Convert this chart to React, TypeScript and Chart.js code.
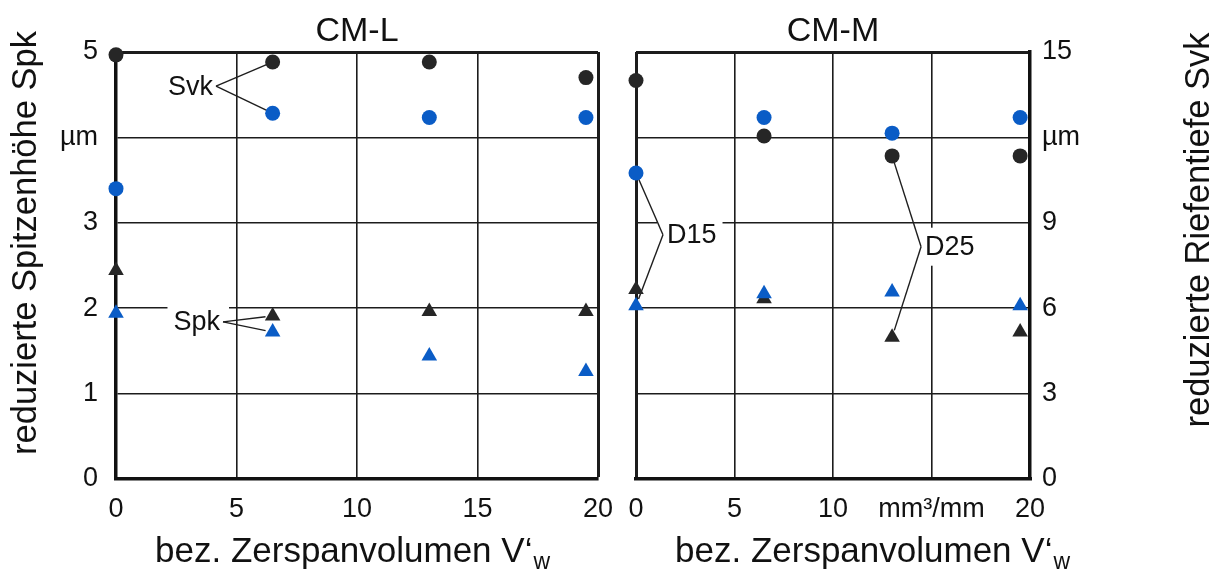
import React, { useEffect, useRef } from 'react';
import { Chart, registerables } from 'chart.js';

Chart.register(...registerables);

// ---------- data ----------
const volume = [0, 6.5, 13, 19.5]; // bez. Zerspanvolumen V'w in mm³/mm

const xTickValues = [0, 5, 10, 15, 20];
const spkTickValues = [0, 1, 2, 3, 4, 5];
const svkTickValues = [0, 3, 6, 9, 12, 15];

const xLabelsLeft = ['0', '5', '10', '15', '20'];
const xLabelsRight = ['0', '5', '10', 'mm³/mm', '20'];
const spkLabels = ['0', '1', '2', '3', 'µm', '5'];
const svkLabels = ['0', '3', '6', '9', 'µm', '15'];

// CM-L (Svk in µm on 0–15 scale, Spk in µm on 0–5 scale)
const cmlSvkD25 = [14.9, 14.65, 14.65, 14.1];
const cmlSvkD15 = [10.2, 12.85, 12.7, 12.7];
const cmlSpkD25 = [2.44, 1.91, 1.96, 1.96];
const cmlSpkD15 = [1.94, 1.72, 1.44, 1.26];

// CM-M
const cmmSvkD25 = [14.0, 12.05, 11.35, 11.35];
const cmmSvkD15 = [10.75, 12.7, 12.15, 12.7];
const cmmSpkD25 = [2.22, 2.11, 1.66, 1.72];
const cmmSpkD15 = [2.03, 2.17, 2.19, 2.03];

// ---------- style ----------
const FONT = "'Liberation Sans', Arial, Helvetica, sans-serif";
const BLUE = '#0a5cc6';
const BLACK = '#262626';
const GRID = '#1c1c1c';
const TEXT = '#111111';

type Note = { text: string; x: number; y: number; side: 'left' | 'right'; targets: [string, number][] };

function makeDatasets(svkD15: number[], spkD15: number[], svkD25: number[], spkD25: number[]) {
  const mk = (label: string, values: number[], axis: string, color: string, style: string, r: number) => ({
    label,
    data: volume.map((x, i) => ({ x, y: values[i] })),
    yAxisID: axis,
    pointStyle: style,
    pointRadius: r,
    pointHoverRadius: r,
    pointBackgroundColor: color,
    pointBorderColor: color,
    pointBorderWidth: 0,
    showLine: false,
    clip: false,
  });
  // first dataset is drawn on top
  return [
    mk('D15-Svk', svkD15, 'y2', BLUE, 'circle', 7.5),
    mk('D15-Spk', spkD15, 'y', BLUE, 'triangle', 9),
    mk('D25-Svk', svkD25, 'y2', BLACK, 'circle', 7.5),
    mk('D25-Spk', spkD25, 'y', BLACK, 'triangle', 9),
  ];
}

function makePlugin(cfg: {
  title: string;
  yTitle: string;
  yTitleX: number;
  yTitleY: number;
  xTitleX: number;
  notes: Note[];
}) {
  return {
    id: 'decor',
    beforeDatasetsDraw(chart: any) {
      const ctx = chart.ctx;
      const xs = chart.scales.x;
      const ys = chart.scales.y;
      ctx.save();
      ctx.font = `27px ${FONT}`;
      for (const n of cfg.notes) {
        const vx = xs.getPixelForValue(n.x);
        const vy = ys.getPixelForValue(n.y);
        const w = ctx.measureText(n.text).width;
        const tx = n.side === 'left' ? vx - 3 - w : vx + 4;
        const bx0 = Math.min(tx, vx) - 6;
        const bx1 = Math.max(tx + w, vx) + 6;
        ctx.fillStyle = '#ffffff';
        ctx.fillRect(bx0, vy - 19, bx1 - bx0, 38);
        ctx.strokeStyle = '#1e1e1e';
        ctx.lineWidth = 1.4;
        for (const [label, idx] of n.targets) {
          const di = chart.data.datasets.findIndex((d: any) => d.label === label);
          const el = chart.getDatasetMeta(di).data[idx];
          const r = chart.data.datasets[di].pointRadius * 0.8;
          const dx = el.x - vx;
          const dy = el.y - vy;
          const len = Math.sqrt(dx * dx + dy * dy);
          ctx.beginPath();
          ctx.moveTo(vx, vy);
          ctx.lineTo(el.x - (dx / len) * r, el.y - (dy / len) * r);
          ctx.stroke();
        }
        ctx.fillStyle = TEXT;
        ctx.textAlign = 'left';
        ctx.textBaseline = 'middle';
        ctx.fillText(n.text, tx, vy + 1);
      }
      ctx.restore();
    },
    afterDraw(chart: any) {
      const ctx = chart.ctx;
      const area = chart.chartArea;
      ctx.save();
      ctx.fillStyle = TEXT;
      // panel title
      ctx.font = `34px ${FONT}`;
      ctx.textAlign = 'center';
      ctx.textBaseline = 'alphabetic';
      ctx.fillText(cfg.title, (area.left + area.right) / 2, area.top - 11);
      // y title (rotated)
      ctx.save();
      ctx.translate(cfg.yTitleX, cfg.yTitleY);
      ctx.rotate(-Math.PI / 2);
      ctx.font = `34.5px ${FONT}`;
      ctx.textAlign = 'center';
      ctx.textBaseline = 'alphabetic';
      ctx.fillText(cfg.yTitle, 0, 0);
      ctx.restore();
      // x title with subscript
      ctx.textAlign = 'left';
      ctx.textBaseline = 'alphabetic';
      ctx.font = `35px ${FONT}`;
      const main = 'bez. Zerspanvolumen V‘';
      const w = ctx.measureText(main).width;
      ctx.fillText(main, cfg.xTitleX, 562);
      ctx.font = `23px ${FONT}`;
      ctx.fillText('w', cfg.xTitleX + w + 1, 569);
      ctx.restore();
    },
  };
}

const tickFont = { family: FONT, size: 27 };

function xScale(labels: string[], thickValue: number) {
  return {
    type: 'linear',
    min: 0,
    max: 20,
    afterBuildTicks: (s: any) => {
      s.ticks = xTickValues.map((v) => ({ value: v }));
    },
    ticks: {
      callback: (_v: any, i: number) => labels[i],
      font: tickFont,
      color: TEXT,
      padding: 14,
      maxRotation: 0,
      autoSkip: false,
    },
    grid: {
      color: GRID,
      lineWidth: (c: any) => (c.tick && c.tick.value === thickValue ? 3 : 1.6),
      drawTicks: false,
    },
    border: { display: true, width: 3.5, color: '#111' },
    afterFit: (s: any) => {
      s.height = 91;
      s.paddingLeft = 0;
      s.paddingRight = 0;
    },
  };
}

function yScale(position: string, max: number, values: number[], labels: string[], width: number, padding: number) {
  return {
    type: 'linear',
    position,
    min: 0,
    max,
    afterBuildTicks: (s: any) => {
      s.ticks = values.map((v) => ({ value: v }));
    },
    ticks: {
      callback: (_v: any, i: number) => labels[i],
      font: tickFont,
      color: TEXT,
      padding,
      autoSkip: false,
    },
    grid: {
      color: GRID,
      lineWidth: (c: any) => (c.tick && c.tick.value === max ? 3 : 1.6),
      drawTicks: false,
    },
    border: { display: true, width: 3.5, color: '#111' },
    afterFit: (s: any) => {
      s.width = width;
      s.paddingTop = 0;
      s.paddingBottom = 0;
    },
  };
}

const leftNotes: Note[] = [
  { text: 'Svk', x: 4.15, y: 4.6, side: 'left', targets: [['D25-Svk', 1], ['D15-Svk', 1]] },
  { text: 'Spk', x: 4.44, y: 1.84, side: 'left', targets: [['D25-Spk', 1], ['D15-Spk', 1]] },
];
const rightNotes: Note[] = [
  { text: 'D15', x: 1.37, y: 2.86, side: 'right', targets: [['D15-Svk', 0], ['D15-Spk', 0]] },
  { text: 'D25', x: 14.47, y: 2.72, side: 'right', targets: [['D25-Svk', 2], ['D25-Spk', 2]] },
];

export default function App() {
  const leftRef = useRef<HTMLCanvasElement>(null);
  const rightRef = useRef<HTMLCanvasElement>(null);

  useEffect(() => {
    const left = new Chart(leftRef.current as HTMLCanvasElement, {
      type: 'scatter',
      data: { datasets: makeDatasets(cmlSvkD15, cmlSpkD15, cmlSvkD25, cmlSpkD25) as any },
      options: {
        responsive: false,
        animation: false,
        events: [],
        layout: { padding: { top: 52, right: 27, left: 0, bottom: 0 } },
        plugins: { legend: { display: false }, tooltip: { enabled: false } },
        scales: {
          x: xScale(xLabelsLeft, 20) as any,
          y: yScale('left', 5, spkTickValues, spkLabels, 116, 18) as any,
          y2: { type: 'linear', display: false, min: 0, max: 15 },
        },
      },
      plugins: [
        makePlugin({
          title: 'CM-L',
          yTitle: 'reduzierte Spitzenhöhe Spk',
          yTitleX: 36,
          yTitleY: 243,
          xTitleX: 155,
          notes: leftNotes,
        }) as any,
      ],
    });

    const right = new Chart(rightRef.current as HTMLCanvasElement, {
      type: 'scatter',
      data: { datasets: makeDatasets(cmmSvkD15, cmmSpkD15, cmmSvkD25, cmmSpkD25) as any },
      options: {
        responsive: false,
        animation: false,
        events: [],
        layout: { padding: { top: 52, right: 0, left: 25, bottom: 0 } },
        plugins: { legend: { display: false }, tooltip: { enabled: false } },
        scales: {
          x: xScale(xLabelsRight, 0) as any,
          y: { type: 'linear', display: false, min: 0, max: 5 },
          y2: yScale('right', 15, svkTickValues, svkLabels, 193, 12) as any,
        },
      },
      plugins: [
        makePlugin({
          title: 'CM-M',
          yTitle: 'reduzierte Riefentiefe Svk',
          yTitleX: 598,
          yTitleY: 230,
          xTitleX: 64,
          notes: rightNotes,
        }) as any,
      ],
    });

    return () => {
      left.destroy();
      right.destroy();
    };
  }, []);

  return (
    <div style={{ position: 'fixed', left: 0, top: 0, width: 1223, height: 570, background: '#ffffff' }}>
      <canvas ref={leftRef} width={625} height={570} style={{ position: 'absolute', left: 0, top: 0 }} />
      <canvas ref={rightRef} width={612} height={570} style={{ position: 'absolute', left: 611, top: 0 }} />
    </div>
  );
}
